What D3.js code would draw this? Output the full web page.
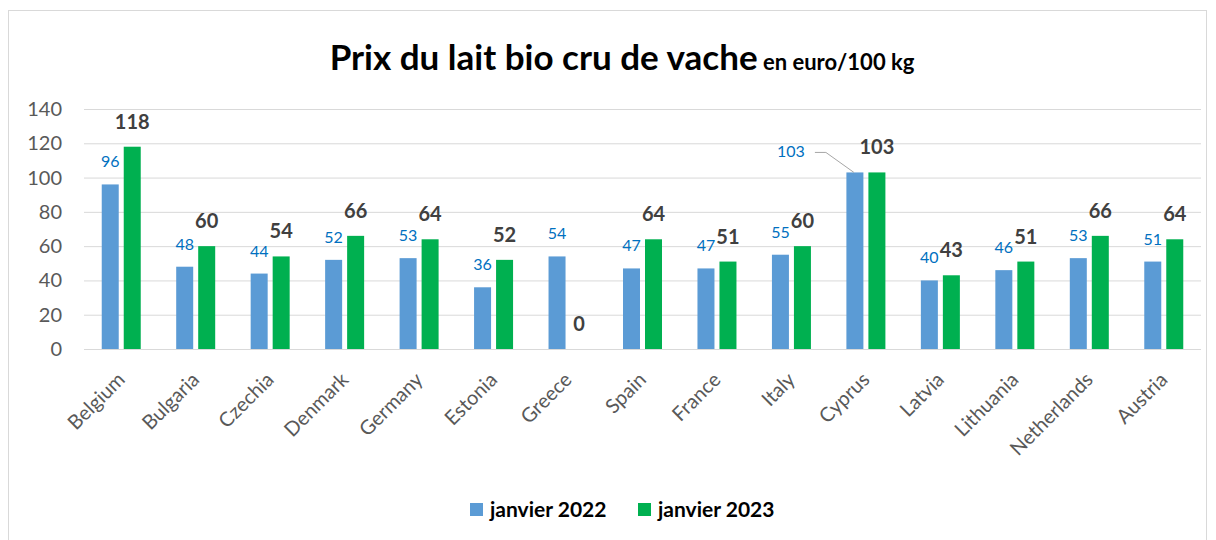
<!DOCTYPE html>
<meta charset="utf-8">
<head>
    <script type="text/javascript" src="https://cdn.jsdelivr.net/npm/d3@7"></script>
    <style>
        body { margin: 0; background: #fff; }
        text { font-family: Lato, "Open Sans", sans-serif; }
    </style>
    <title>Prix du lait bio cru de vache</title>
</head>
<body>
<script>
    // data
    var countries = ["Belgium", "Bulgaria", "Czechia", "Denmark", "Germany", "Estonia", "Greece",
        "Spain", "France", "Italy", "Cyprus", "Latvia", "Lithuania", "Netherlands", "Austria"];
    var jan2022 = [96, 48, 44, 52, 53, 36, 54, 47, 47, 55, 103, 40, 46, 53, 51];
    var jan2023 = [118, 60, 54, 66, 64, 52, 0, 64, 51, 60, 103, 43, 51, 66, 64];
    var seriesNames = ["janvier 2022", "janvier 2023"];
    var yTicks = [0, 20, 40, 60, 80, 100, 120, 140];

    var W = 1216, H = 540;
    var margin = {top: 109, right: 15, bottom: 191, left: 84};
    var width = W - margin.left - margin.right;
    var height = H - margin.top - margin.bottom;

    var colors = ["#5B9BD5", "#00B050"];

    var svg = d3.select("body").append("svg")
        .attr("width", W)
        .attr("height", H);

    // outer frame
    svg.append("rect")
        .attr("x", 8.5).attr("y", 10.5)
        .attr("width", 1198).attr("height", 530)
        .attr("fill", "none")
        .attr("stroke", "#D9D9D9");

    // title
    var title = svg.append("text")
        .attr("x", 622).attr("y", 70)
        .attr("text-anchor", "middle")
        .style("font-weight", "bold")
        .style("fill", "#000");
    title.append("tspan").text("Prix du lait bio cru de vache").style("font-size", "35px");
    title.append("tspan").text(" en euro/100 kg").style("font-size", "22px");

    var g = svg.append("g").attr("transform", "translate(" + margin.left + "," + margin.top + ")");

    var x = d3.scaleBand().domain(countries).range([0, width]).padding(0);
    var y = d3.scaleLinear().domain([0, 140]).range([height, 0]);

    // gridlines
    g.append("g").selectAll("line")
        .data(yTicks).enter()
        .append("line")
        .attr("x1", 0).attr("x2", width)
        .attr("y1", d => y(d) + 0.5).attr("y2", d => y(d) + 0.5)
        .attr("stroke", "#D9D9D9")
        .attr("stroke-width", 1);

    // y labels
    g.append("g").selectAll("text")
        .data(yTicks).enter()
        .append("text")
        .attr("x", -22)
        .attr("y", d => y(d))
        .attr("dy", "0.35em")
        .attr("text-anchor", "end")
        .style("font-size", "20px")
        .style("fill", "#595959")
        .text(d => d);

    var barW = 17, gap = 5;
    var offsets = [-(barW + gap / 2), gap / 2];
    var series = [jan2022, jan2023];

    series.forEach(function (vals, s) {
        g.append("g").selectAll("rect")
            .data(vals).enter()
            .append("rect")
            .attr("x", (d, i) => x(countries[i]) + x.bandwidth() / 2 + offsets[s])
            .attr("y", d => y(d))
            .attr("width", barW)
            .attr("height", d => height - y(d))
            .attr("fill", colors[s]);
    });

    // labels for 2022 (blue)
    g.append("g").selectAll("text")
        .data(jan2022).enter()
        .append("text")
        .attr("x", function (d, i) {
            var cx = x(countries[i]) + x.bandwidth() / 2 + offsets[0] + barW / 2;
            return countries[i] === "Cyprus" ? cx - 64 : cx;
        })
        .attr("y", (d, i) => countries[i] === "Cyprus" ? y(d) - 15 : y(d) - 17)
        .attr("text-anchor", "middle")
        .style("font-size", "16px")
        .style("fill", "#0070C0")
        .text(d => d);

    // leader line for Cyprus
    var ci = countries.indexOf("Cyprus");
    var cxBlue = x("Cyprus") + x.bandwidth() / 2 + offsets[0] + barW / 2;
    g.append("polyline")
        .attr("points", [[cxBlue - 40, y(jan2022[ci]) - 20], [cxBlue - 29, y(jan2022[ci]) - 20], [cxBlue - 1, y(jan2022[ci])]]
            .map(p => p.join(",")).join(" "))
        .attr("fill", "none")
        .attr("stroke", "#A6A6A6")
        .attr("stroke-width", 1);

    // labels for 2023 (green)
    g.append("g").selectAll("text")
        .data(jan2023).enter()
        .append("text")
        .attr("x", (d, i) => x(countries[i]) + x.bandwidth() / 2 + offsets[1] + barW / 2)
        .attr("y", d => y(d) - 18)
        .attr("text-anchor", "middle")
        .style("font-size", "20px")
        .style("font-weight", "bold")
        .style("fill", "#404040")
        .text(d => d);

    // x labels
    g.append("g").selectAll("text")
        .data(countries).enter()
        .append("text")
        .attr("transform", d => "translate(" + (x(d) + x.bandwidth() / 2) + "," + (height + 27) + ") rotate(-45)")
        .attr("text-anchor", "end")
        .attr("dy", "0.35em")
        .style("font-size", "20px")
        .style("fill", "#595959")
        .text(d => d);

    // legend
    var legend = svg.append("g").attr("transform", "translate(470,503)");
    var lx = [0, 168];
    seriesNames.forEach(function (name, s) {
        legend.append("rect")
            .attr("x", lx[s]).attr("y", 0)
            .attr("width", 13).attr("height", 13)
            .attr("fill", colors[s]);
        legend.append("text")
            .attr("x", lx[s] + 20).attr("y", 14)
            .style("font-size", "21px")
            .style("font-weight", "bold")
            .style("fill", "#000")
            .text(name);
    });
</script>
</body>
</html>
